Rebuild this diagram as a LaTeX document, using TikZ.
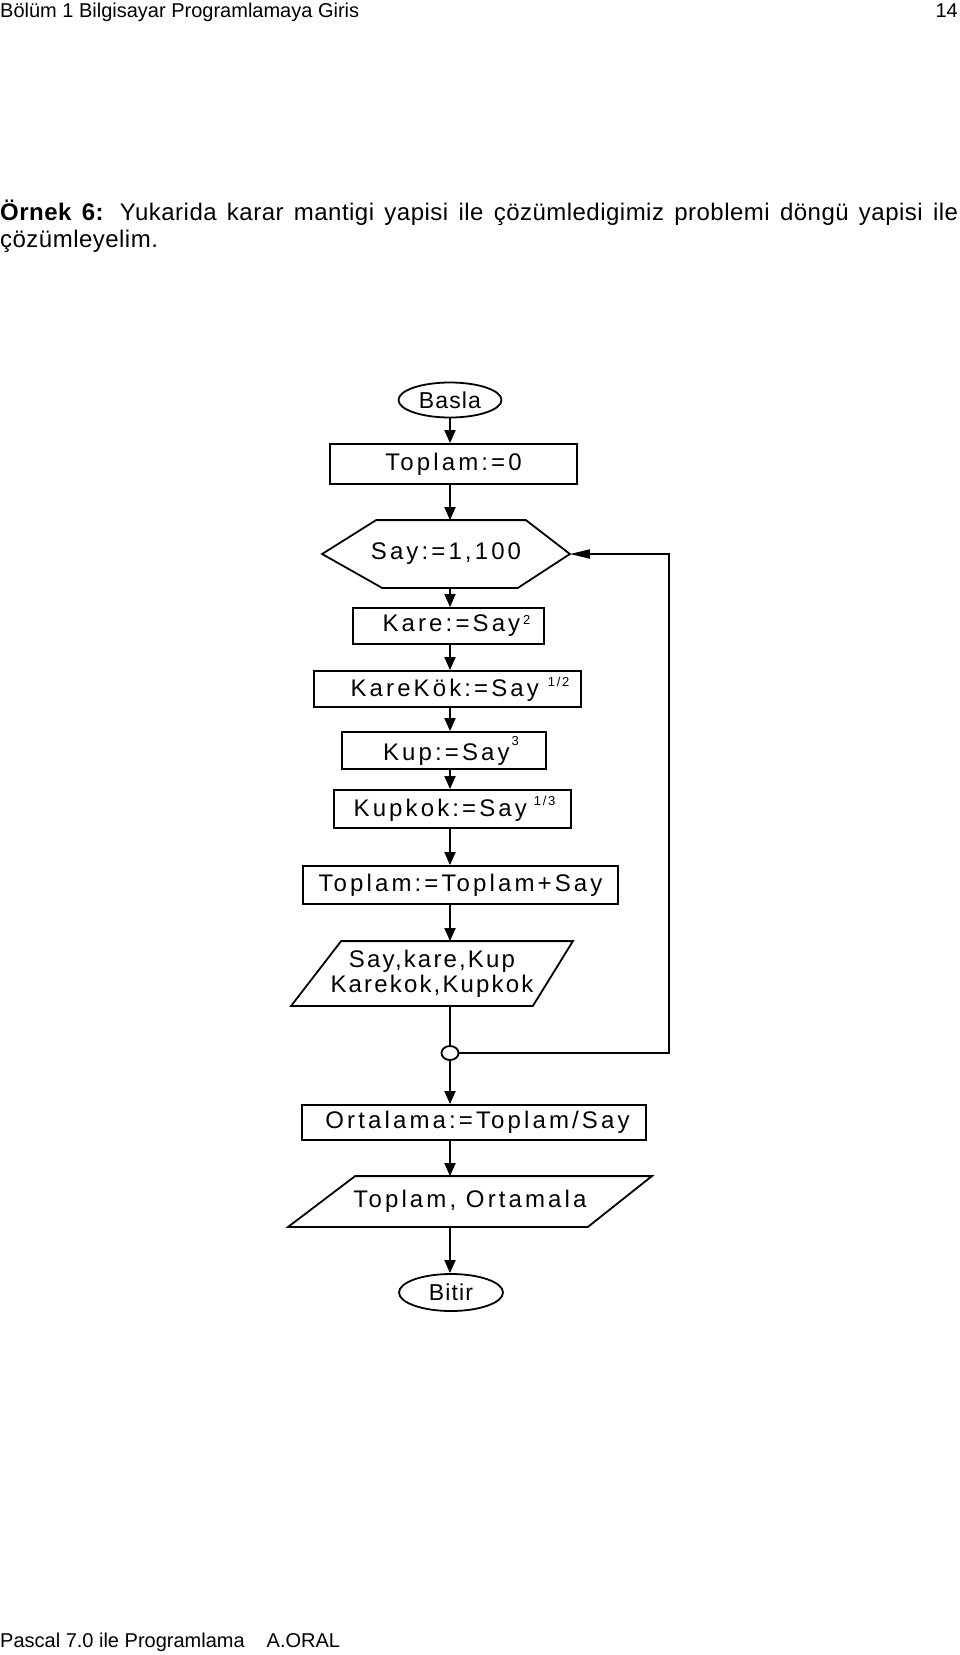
\documentclass[tikz,border=0pt]{standalone}
\usepackage{fontspec}
\setmainfont{Liberation Sans}
\newfontfamily\akisfont[LetterSpace=13]{Liberation Sans}
\newfontfamily\yazfont[LetterSpace=9]{Liberation Sans}
\newfontfamily\ucfont[LetterSpace=5]{Liberation Sans}
\newfontfamily\metinfont[LetterSpace=2]{Liberation Sans}
\usetikzlibrary{shapes.geometric, arrows.meta}
\newcommand{\ustsay}[2]{\raisebox{#1}{\fontsize{13pt}{13pt}\selectfont #2}}

\begin{document}
\begin{tikzpicture}[x=1pt, y=-1pt,
    uc/.style={ellipse, draw, line width=1.8pt, inner sep=0pt, font=\ucfont\fontsize{23pt}{27pt}\selectfont},
    blok/.style={rectangle, draw, line width=1.8pt, inner sep=0pt, font=\akisfont\fontsize{24pt}{28pt}\selectfont},
    kenar/.style={line width=1.8pt},
    akis/.style={-{Triangle[length=13pt, width=11pt]}, line width=1.8pt},
    donus/.style={-{Triangle[length=20pt, width=9pt]}, line width=1.8pt},
    metin/.style={anchor=base west, inner sep=0pt, font=\fontsize{20pt}{24pt}\selectfont}
]
\useasboundingbox (0,0) rectangle (960,1655);

% Sayfa basligi ve aciklama
\node[metin] (bolum) at (0,17) {Bölüm 1 Bilgisayar Programlamaya Giris};
\node[metin, anchor=base east] (sayfa) at (958,17) {14};
\node[metin, font=\metinfont\fontsize{24pt}{28pt}\selectfont] (ornek1) at (0,220) {\makebox[958pt][s]{\textbf{Örnek 6:} Yukarida karar mantigi yapisi ile çözümledigimiz problemi döngü yapisi ile}};
\node[metin, font=\metinfont\fontsize{24pt}{28pt}\selectfont] (ornek2) at (0,247) {çözümleyelim.};

% Akis semasi
\node[uc, minimum width=103pt, minimum height=35pt] (basla) at (450,400) {Basla};
\node[blok, minimum width=247pt, minimum height=40pt] (toplam0) at (453.5,464) {Toplam:=0};
\node[blok, draw=none, minimum width=246pt, minimum height=66pt] (say) at (446,554) {Say:=1,100\hspace{15pt}};
\draw[kenar] (say.west) -- ([xshift=54pt]say.north west) -- ([xshift=-44pt]say.north east) -- (say.east) -- ([xshift=-52pt]say.south east) -- ([xshift=60pt]say.south west) -- cycle;
\node[blok, minimum width=191pt, minimum height=36pt] (kare) at (448.5,626) {\hspace{16pt}Kare:=Say\hspace{3pt}\ustsay{7pt}{2}};
\node[blok, minimum width=267pt, minimum height=36pt] (karekok) at (447.5,689) {\hspace{25pt}KareKök:=Say\hspace{9pt}\ustsay{10pt}{1/2}};
\node[blok, minimum width=204pt, minimum height=37pt] (kup) at (444,750.5) {\hspace{14pt}Kup:=Say\hspace{2pt}\ustsay{15pt}{3}};
\node[blok, minimum width=237pt, minimum height=38pt] (kupkok) at (452.5,809) {\hspace{4pt}Kupkok:=Say\hspace{7pt}\ustsay{11pt}{1/3}};
\node[blok, minimum width=315pt, minimum height=38pt] (toplam1) at (460.5,885) {Toplam:=Toplam+Say};
\node[blok, draw=none, align=center, minimum width=280pt, minimum height=63pt, font=\yazfont\fontsize{24pt}{25pt}\selectfont] (yaz1) at (432,973.5) {Say,kare,Kup\\Karekok,Kupkok};
\draw[kenar] ([xshift=50pt]yaz1.north west) -- (yaz1.north east) -- ([xshift=-40pt]yaz1.south east) -- (yaz1.south west) -- cycle;
\node[ellipse, draw, line width=1.8pt, fill=white, inner sep=0pt, minimum width=17pt, minimum height=14pt] (dugum) at (450,1053) {};
\node[blok, minimum width=344pt, minimum height=35pt] (ortalama) at (474,1122.5) {\hspace{7pt}Ortalama:=Toplam/Say};
\node[blok, draw=none, minimum width=362pt, minimum height=49pt] (yaz2) at (470,1201.5) {Toplam, Ortamala};
\draw[kenar] ([xshift=67pt]yaz2.north west) -- (yaz2.north east) -- ([xshift=-64pt]yaz2.south east) -- (yaz2.south west) -- cycle;
\node[uc, minimum width=104pt, minimum height=37pt] (bitir) at (451,1292.5) {Bitir};

% Baglantilar
\draw[akis] (basla.south) -- (toplam0.north -| basla.south);
\draw[akis] (toplam0.south -| basla.south) -- (say.north -| basla.south);
\draw[akis] (say.south -| basla.south) -- (kare.north -| basla.south);
\draw[akis] (kare.south -| basla.south) -- (karekok.north -| basla.south);
\draw[akis] (karekok.south -| basla.south) -- (kup.north -| basla.south);
\draw[akis] (kup.south -| basla.south) -- (kupkok.north -| basla.south);
\draw[akis] (kupkok.south -| basla.south) -- (toplam1.north -| basla.south);
\draw[akis] (toplam1.south -| basla.south) -- (yaz1.north -| basla.south);
\draw[kenar] (yaz1.south -| dugum.north) -- (dugum.north);
\draw[akis] (dugum.south) -- (ortalama.north -| dugum.south);
\draw[akis] (ortalama.south -| dugum.south) -- (yaz2.north -| dugum.south);
\draw[akis] (yaz2.south -| dugum.south) -- (bitir.north -| dugum.south);
\draw[donus] (dugum.east) -| ([xshift=99pt]say.east) -- (say.east);

% Alt bilgi
\node[metin] (alt) at (0,1647) {Pascal 7.0 ile Programlama\hspace{22pt}A.ORAL};
\end{tikzpicture}
\end{document}
